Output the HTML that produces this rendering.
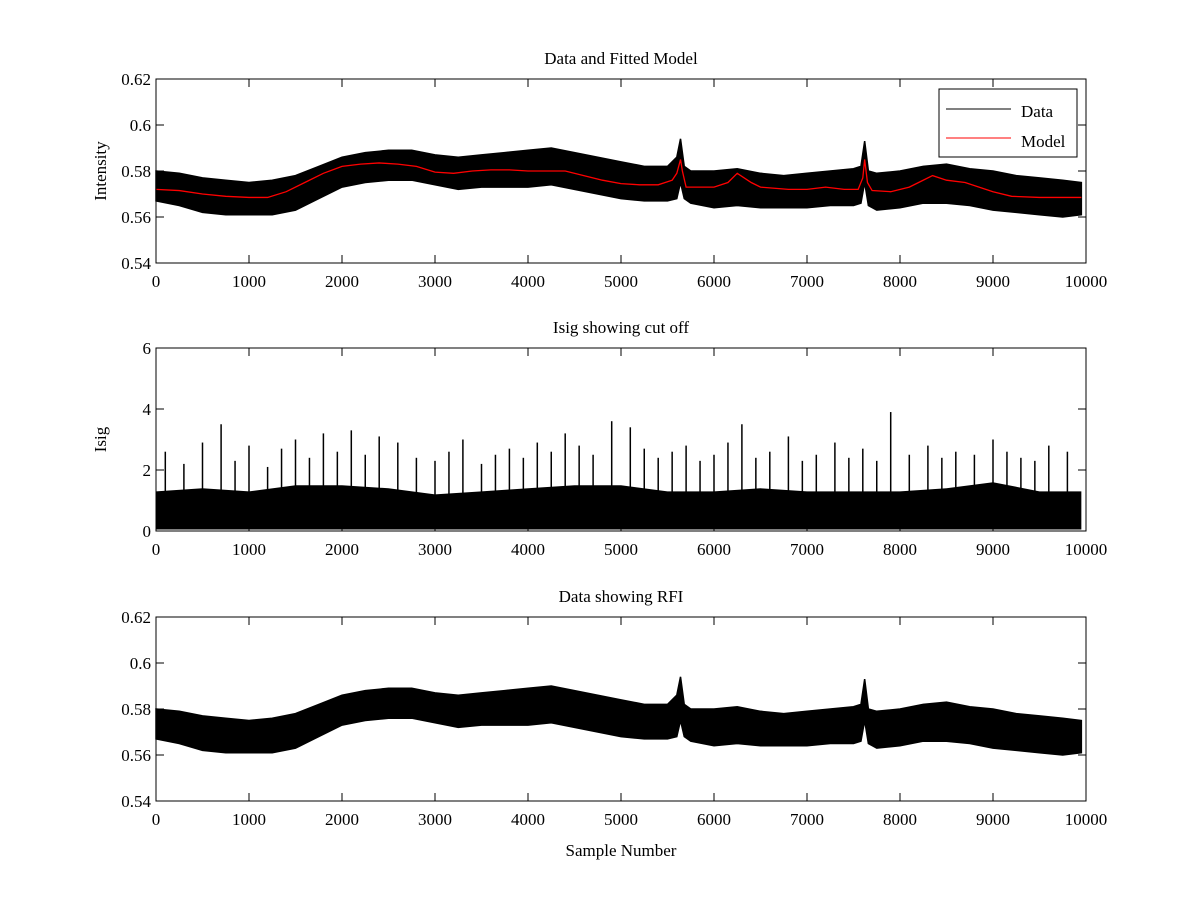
<!DOCTYPE html>
<html><head><meta charset="utf-8"><style>
body{margin:0;background:#fff}
svg{display:block;font-family:"Liberation Serif",serif}
</style></head><body>
<svg id="fig" width="1200" height="900" xmlns="http://www.w3.org/2000/svg"></svg>
<script>
const xTicks=[0,1000,2000,3000,4000,5000,6000,7000,8000,9000,10000];
const intTicks=[0.54,0.56,0.58,0.6,0.62];
const isigTicks=[0,2,4,6];
const modelX=[0,250,500,750,1000,1200,1400,1600,1800,2000,2200,2400,2600,2800,3000,3200,3400,3600,3800,4000,4200,4400,4600,4800,5000,5200,5400,5550,5600,5640,5660,5700,5800,6000,6150,6250,6400,6500,6800,7000,7200,7400,7550,7600,7620,7650,7700,7900,8100,8200,8350,8500,8700,9000,9200,9500,9950];
const modelY=[.572,.5715,.570,.569,.5685,.5685,.571,.575,.579,.582,.583,.5835,.583,.582,.5795,.579,.580,.5805,.5805,.580,.580,.580,.578,.576,.5745,.574,.574,.576,.579,.585,.580,.573,.573,.573,.575,.579,.575,.573,.572,.572,.573,.572,.572,.577,.585,.575,.5715,.571,.573,.575,.578,.576,.575,.571,.569,.5685,.5685];
const dataX=[0,250,500,750,1000,1250,1500,1750,2000,2250,2500,2750,3000,3250,3500,3750,4000,4250,4500,4750,5000,5250,5500,5600,5640,5680,5750,6000,6250,6500,6750,7000,7250,7500,7580,7620,7660,7750,8000,8250,8500,8750,9000,9250,9500,9750,9950];
const dataHi=[.580,.579,.577,.576,.575,.576,.578,.582,.586,.588,.589,.589,.587,.586,.587,.588,.589,.590,.588,.586,.584,.582,.582,.586,.594,.582,.580,.580,.581,.579,.578,.579,.580,.581,.582,.593,.580,.579,.580,.582,.583,.581,.580,.578,.577,.576,.575];
const dataLo=[.567,.565,.562,.561,.561,.561,.563,.568,.573,.575,.576,.576,.574,.572,.573,.573,.573,.574,.572,.570,.568,.567,.567,.568,.575,.568,.566,.564,.565,.564,.564,.564,.565,.565,.566,.575,.565,.563,.564,.566,.566,.565,.563,.562,.561,.560,.561];
const isigX=[0,500,1000,1500,2000,2500,3000,3500,4000,4500,5000,5500,6000,6500,7000,7500,8000,8500,9000,9500,9950];
const isigHi=[1.3,1.4,1.3,1.5,1.5,1.4,1.2,1.3,1.4,1.5,1.5,1.3,1.3,1.4,1.3,1.3,1.3,1.4,1.6,1.3,1.3];
const spikeX=[100,300,500,700,850,1000,1200,1350,1500,1650,1800,1950,2100,2250,2400,2600,2800,3000,3150,3300,3500,3650,3800,3950,4100,4250,4400,4550,4700,4900,5100,5250,5400,5550,5700,5850,6000,6150,6300,6450,6600,6800,6950,7100,7300,7450,7600,7750,7900,8100,8300,8450,8600,8800,9000,9150,9300,9450,9600,9800];
const spikeY=[2.6,2.2,2.9,3.5,2.3,2.8,2.1,2.7,3.0,2.4,3.2,2.6,3.3,2.5,3.1,2.9,2.4,2.3,2.6,3.0,2.2,2.5,2.7,2.4,2.9,2.6,3.2,2.8,2.5,3.6,3.4,2.7,2.4,2.6,2.8,2.3,2.5,2.9,3.5,2.4,2.6,3.1,2.3,2.5,2.9,2.4,2.7,2.3,3.9,2.5,2.8,2.4,2.6,2.5,3.0,2.6,2.4,2.3,2.8,2.6];
const NS="http://www.w3.org/2000/svg";
const svg=document.getElementById('fig');
function el(t,a,p){const e=document.createElementNS(NS,t);for(const k in a)e.setAttribute(k,a[k]);(p||svg).appendChild(e);return e;}
const X0=156,X1=1086;
const sx=v=>X0+v/10000*(X1-X0);
function axes(top,bot,ymin,ymax,yt,fmt,title,ylab,name){
  const sy=v=>bot-(v-ymin)/(ymax-ymin)*(bot-top);
  const g=el('g',{});
  
  
  return {g,sy,top,bot,finish(){
    el('rect',{x:X0,y:top,width:X1-X0,height:bot-top,fill:'none',stroke:'#000','stroke-width':1},g);
    xTicks.forEach(t=>{const x=sx(t);
      el('line',{x1:x,x2:x,y1:bot,y2:bot-8,stroke:'#000'},g);
      el('line',{x1:x,x2:x,y1:top,y2:top+8,stroke:'#000'},g);
      const tx=el('text',{x:x,y:bot+24,'text-anchor':'middle','font-size':17},g);tx.textContent=t;
      
      });
    yt.forEach(t=>{const y=sy(t);
      el('line',{x1:X0,x2:X0+8,y1:y,y2:y,stroke:'#000'},g);
      el('line',{x1:X1,x2:X1-8,y1:y,y2:y,stroke:'#000'},g);
      const tx=el('text',{x:X0-5,y:y+6,'text-anchor':'end','font-size':17},g);tx.textContent=fmt(t);
      
      });
    const ti=el('text',{x:(X0+X1)/2,y:top-15,'text-anchor':'middle','font-size':17},g);ti.textContent=title;
    
    
    const yl=el('text',{x:0,y:0,'text-anchor':'middle','font-size':17,transform:`translate(${X0-50},${(top+bot)/2}) rotate(-90)`},g);yl.textContent=ylab;
    
    
  }};
}
const f2=t=>t===0.6?'0.6':t.toFixed(2);
function band(a,name){
  let d='M'+dataX.map((x,i)=>sx(x)+','+a.sy(dataHi[i])).join('L');
  for(let i=dataX.length-1;i>=0;i--)d+='L'+sx(dataX[i])+','+a.sy(dataLo[i]);
  const p=el('path',{d:d+'Z',fill:'#000',stroke:'#000','stroke-width':1.5},a.g);
  
  
}
// top
const A=axes(79,263,0.54,0.62,intTicks,f2,'Data and Fitted Model','Intensity','top-panel');
band(A,'data-series');
const m=el('polyline',{points:modelX.map((x,i)=>sx(x)+','+A.sy(modelY[i])).join(' '),fill:'none',stroke:'#f00','stroke-width':1.3},A.g);


A.finish();
const lg=el('g',{},A.g);


el('rect',{x:939,y:89,width:138,height:68,fill:'#fff',stroke:'#000'},lg);
el('line',{x1:946,x2:1011,y1:109,y2:109,stroke:'#000'},lg);
el('line',{x1:946,x2:1011,y1:138,y2:138,stroke:'#f00'},lg);
let t=el('text',{x:1021,y:117,'font-size':17},lg);t.textContent='Data';


t=el('text',{x:1021,y:147,'font-size':17},lg);t.textContent='Model';


// middle
const B=axes(348,531,0,6,isigTicks,v=>String(v),'Isig showing cut off','Isig','middle-panel');
let d='M'+sx(0)+','+B.sy(0.05)+'L'+isigX.map((x,i)=>sx(x)+','+B.sy(isigHi[i])).join('L')+'L'+sx(9950)+','+B.sy(0.05)+'Z';
const ib=el('path',{d:d,fill:'#000'},B.g);


spikeX.forEach((x,i)=>{const s=el('line',{x1:sx(x),x2:sx(x),y1:B.sy(0.05),y2:B.sy(spikeY[i]),stroke:'#000','stroke-width':1.5},B.g);
  
  });
B.finish();
// bottom
const C=axes(617,801,0.54,0.62,intTicks,f2,'Data showing RFI','','bottom-panel');
band(C,'rfi-data-series');
C.finish();
const xl=el('text',{x:621,y:856,'text-anchor':'middle','font-size':17});xl.textContent='Sample Number';


</script>
</body></html>
